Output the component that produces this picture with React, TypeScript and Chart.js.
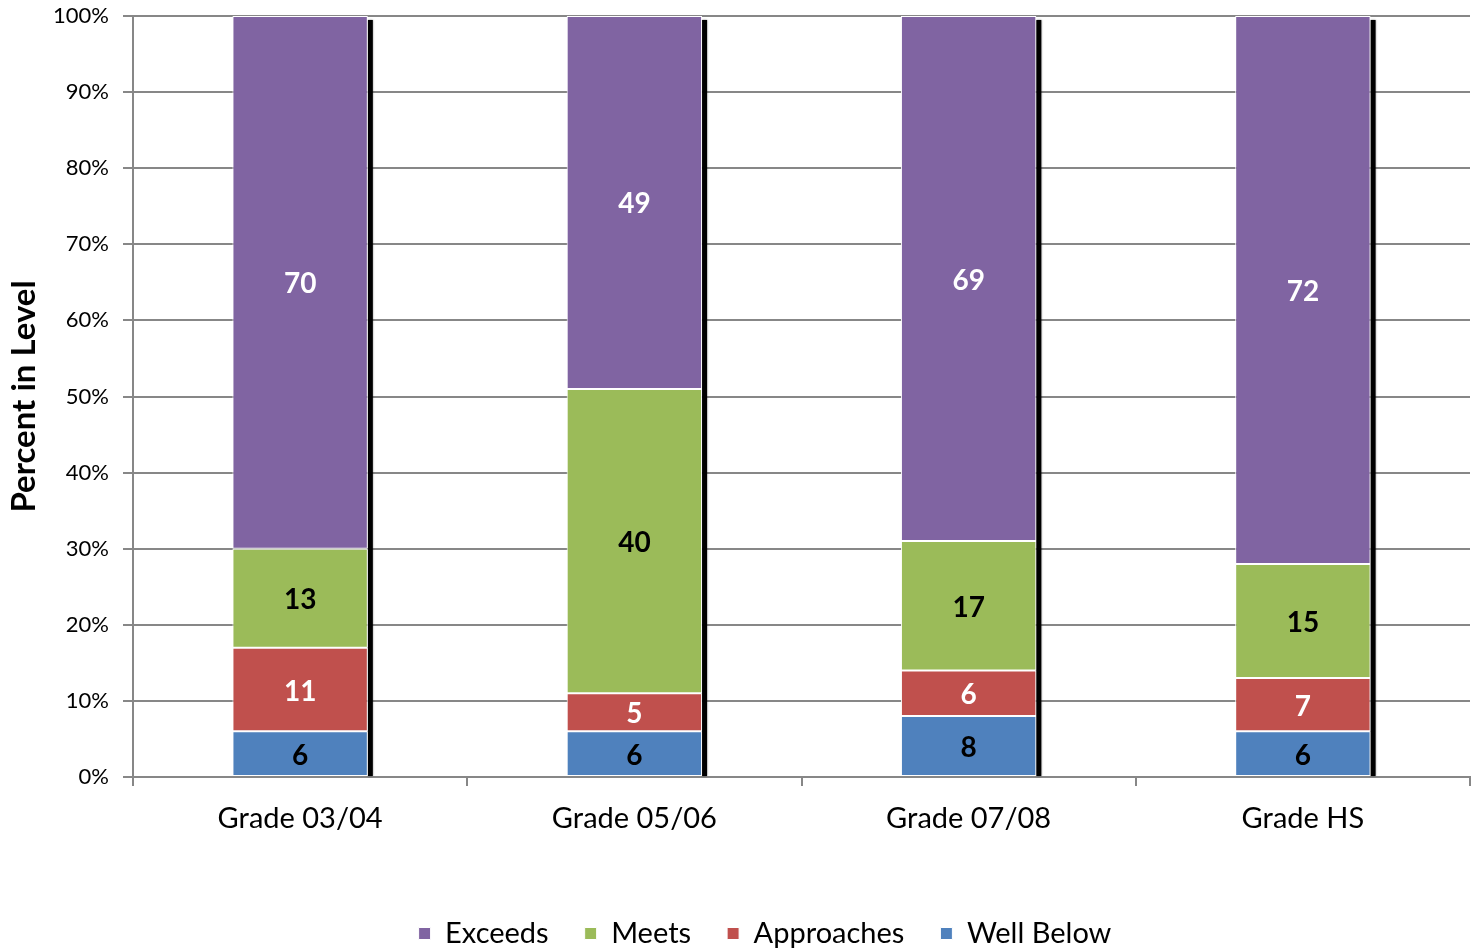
import { useEffect, useRef } from "react";
import { Chart, registerables } from "chart.js";

Chart.register(...registerables);

// Grade bands and the percent of students in each performance level
const grades = ["Grade 03/04", "Grade 05/06", "Grade 07/08", "Grade HS"];
const wellBelow = [6, 6, 8, 6];
const approaches = [11, 5, 6, 7];
const meets = [13, 40, 17, 15];
const exceeds = [70, 49, 69, 72];

const levelNames = ["Well Below", "Approaches", "Meets", "Exceeds"];
const levelColors = ["#4F81BD", "#C0504D", "#9BBB59", "#8064A2"];
const valueLabelColors = ["#000000", "#FFFFFF", "#000000", "#FFFFFF"];

const W = 1480;
const H = 950;
const PLOT_LEFT = 133;
const PLOT_TOP = 16;
const PLOT_BOTTOM = 777;
const GRID = "#878787";
const FONT = "Lato, 'Open Sans', sans-serif";

// Dark drop shadow along the right edge of every stacked column
const columnShadow = {
  id: "columnShadow",
  beforeDatasetsDraw(chart: any) {
    const n = chart.data.datasets.length;
    const first = chart.getDatasetMeta(0);
    const last = chart.getDatasetMeta(n - 1);
    const ctx = chart.ctx;
    ctx.save();
    ctx.fillStyle = "#000000";
    ctx.shadowColor = "rgba(0,0,0,0.6)";
    ctx.shadowBlur = 2;
    last.data.forEach((top: any, i: number) => {
      const bottom: any = first.data[i];
      const right = top.x + top.width / 2;
      const y0 = top.y + 4;
      ctx.fillRect(right, y0, 5, bottom.base - y0);
    });
    ctx.restore();
  },
};

// Value written in the middle of each segment
const segmentValues = {
  id: "segmentValues",
  afterDatasetsDraw(chart: any) {
    const ctx = chart.ctx;
    ctx.save();
    ctx.font = `bold 28px ${FONT}`;
    ctx.textAlign = "center";
    ctx.textBaseline = "middle";
    chart.data.datasets.forEach((ds: any, di: number) => {
      const meta = chart.getDatasetMeta(di);
      meta.data.forEach((el: any, i: number) => {
        ctx.fillStyle = valueLabelColors[di];
        ctx.fillText(String(ds.data[i]), el.x, (el.y + el.base) / 2 + 2);
      });
    });
    ctx.restore();
  },
};

// Nudge the legend row down and to the right
const legendOffset = {
  id: "legendOffset",
  afterLayout(chart: any) {
    const lg = chart.legend;
    if (lg) {
      lg.top += 8;
      lg.bottom += 8;
      lg.left += 30;
      lg.right += 30;
    }
  },
};

export default function App() {
  const canvasRef = useRef<HTMLCanvasElement | null>(null);

  useEffect(() => {
    const canvas = canvasRef.current;
    if (!canvas) return;
    const series = [wellBelow, approaches, meets, exceeds];
    const chart = new Chart(canvas, {
      type: "bar",
      data: {
        labels: grades,
        datasets: series.map((values, k) => ({
          label: levelNames[k],
          data: values,
          backgroundColor: levelColors[k],
          borderColor: "#FFFFFF",
          borderWidth: 1,
          borderSkipped: false,
          barPercentage: 0.405,
          categoryPercentage: 1,
        })),
      },
      options: {
        responsive: false,
        animation: false,
        devicePixelRatio: 1,
        layout: { padding: { top: 0, right: 10, left: 0, bottom: 0 } },
        plugins: {
          tooltip: { enabled: false },
          title: { display: false },
          legend: {
            position: "bottom",
            reverse: true,
            labels: {
              boxWidth: 12,
              boxHeight: 12,
              padding: 36,
              color: "#000000",
              font: { family: FONT, size: 29 },
            },
          },
        },
        scales: {
          x: {
            stacked: true,
            afterFit(scale: any) {
              const legendH = scale.chart.legend ? scale.chart.legend.height : 0;
              scale.height = H - PLOT_BOTTOM - legendH;
            },
            grid: {
              drawOnChartArea: false,
              drawTicks: true,
              tickLength: 9,
              color: GRID,
              lineWidth: 2,
            },
            border: { color: GRID, width: 2 },
            ticks: {
              color: "#000000",
              padding: 15,
              font: { family: FONT, size: 29 },
            },
          },
          y: {
            stacked: true,
            min: 0,
            max: 100,
            afterFit(scale: any) {
              scale.width = PLOT_LEFT;
              scale.paddingTop = PLOT_TOP;
              scale.paddingBottom = 0;
            },
            grid: { color: GRID, lineWidth: 2, tickLength: 10 },
            border: { color: GRID, width: 2 },
            ticks: {
              stepSize: 10,
              padding: 14,
              color: "#000000",
              font: { family: FONT, size: 22 },
              callback: (v: any) => `${v}%`,
            },
            title: {
              display: true,
              text: "Percent in Level",
              color: "#000000",
              font: { family: FONT, size: 33, weight: "bold" },
              padding: { top: 5, bottom: 0 },
            },
          },
        },
      },
      plugins: [columnShadow, segmentValues, legendOffset],
    });
    return () => chart.destroy();
  }, []);

  return (
    <div style={{ position: "absolute", left: 0, top: 0, width: W, height: H, background: "#FFFFFF" }}>
      <canvas ref={canvasRef} width={W} height={H} />
    </div>
  );
}
